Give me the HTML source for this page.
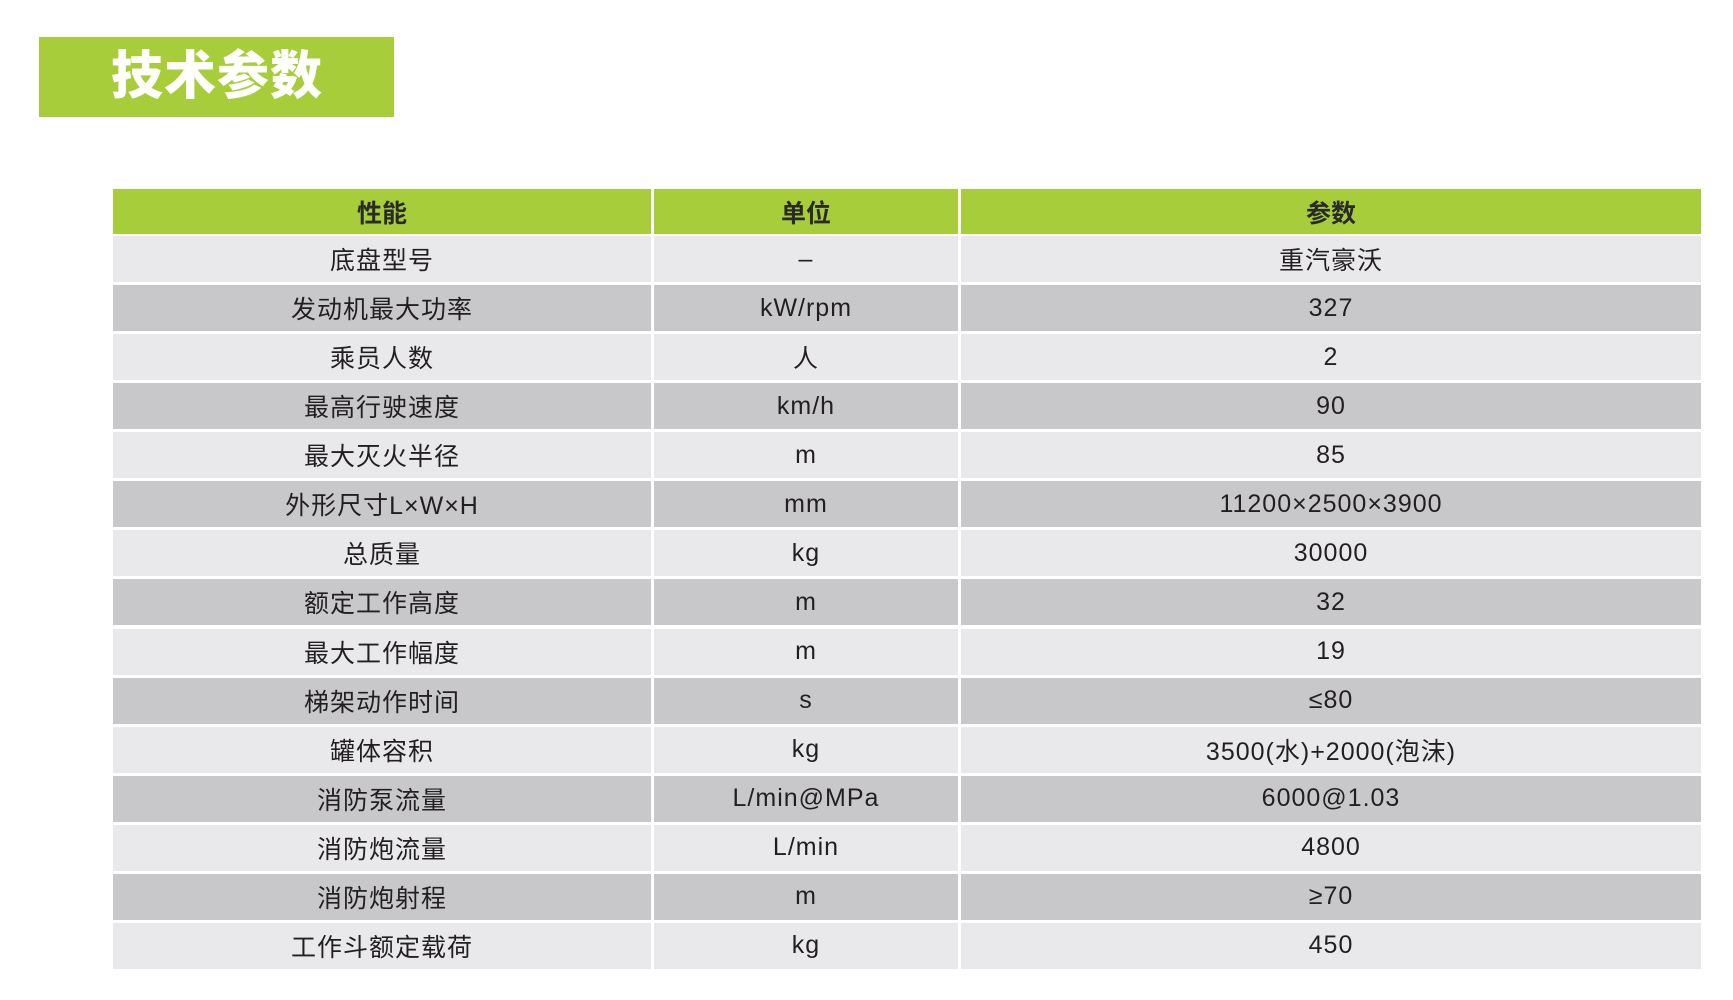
<!DOCTYPE html>
<html><head><meta charset="utf-8"><style>
body{margin:0;width:1733px;height:1000px;background:#fff;position:relative;overflow:hidden;font-family:"Liberation Sans","Noto Sans CJK SC",sans-serif;color:#231f20}
.title{position:absolute;left:39px;top:37px;width:355px;height:80px;background:#a8cd3a;color:#fff;font-weight:900;font-size:52px;line-height:80px;box-sizing:border-box;padding-left:72px;letter-spacing:1px}
.c{position:absolute;display:flex;align-items:center;justify-content:center;font-size:25px;letter-spacing:1px}
.h{background:#a8cd3a;font-weight:bold;color:#2a2a2a;letter-spacing:0}
.l{background:#e9e9eb}.d{background:#c8c8ca}
</style></head><body>
<div class="title">技术参数</div>
<div id="t"></div>
<script>
const rows=[["性能","单位","参数"],["底盘型号","–","重汽豪沃"],["发动机最大功率","kW/rpm","327"],["乘员人数","人","2"],["最高行驶速度","km/h","90"],["最大灭火半径","m","85"],["外形尺寸L×W×H","mm","11200×2500×3900"],["总质量","kg","30000"],["额定工作高度","m","32"],["最大工作幅度","m","19"],["梯架动作时间","s","≤80"],["罐体容积","kg","3500(水)+2000(泡沫)"],["消防泵流量","L/min@MPa","6000@1.03"],["消防炮流量","L/min","4800"],["消防炮射程","m","≥70"],["工作斗额定载荷","kg","450"]];
const cols=[[113,651],[654,958],[961,1701]];
let h="";
rows.forEach((r,i)=>{let top,ht,cls;
if(i==0){top=189;ht=45;cls="h"}else{top=236+(i-1)*49.07;ht=46;cls=(i%2==1)?"l":"d"}
r.forEach((t,j)=>{h+=`<div class="c ${cls}" style="left:${cols[j][0]}px;width:${cols[j][1]-cols[j][0]}px;top:${top}px;height:${ht}px">${t}</div>`})});
document.getElementById("t").innerHTML=h;
</script>
</body></html>
